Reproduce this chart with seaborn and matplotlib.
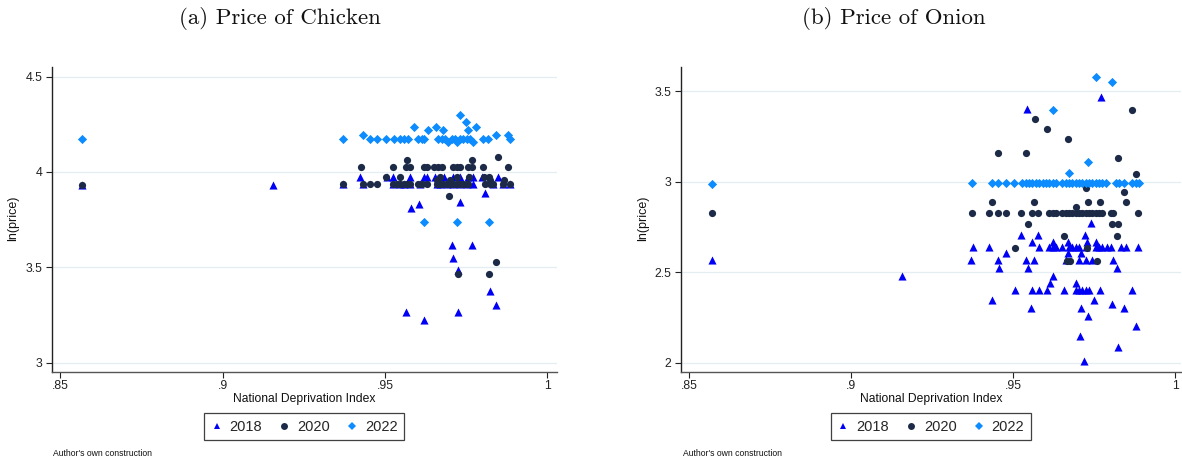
import numpy as np
import pandas as pd
import matplotlib
matplotlib.use("Agg")
import matplotlib.pyplot as plt
from matplotlib.lines import Line2D
import seaborn as sns

# ---------------- data ----------------
years = ["2018", "2020", "2022"]

# (a) Chicken
chk18_x = [0.8568, 0.9155,
           0.9372, 0.9434, 0.9526, 0.9546, 0.9559, 0.9577, 0.9608, 0.9659, 0.9670, 0.9690, 0.9711, 0.9731,
           0.9752, 0.9772, 0.9834, 0.9865, 0.9885,
           0.9423, 0.9505, 0.9526, 0.9577, 0.9620, 0.9629, 0.9654, 0.9682, 0.9711, 0.9731, 0.9757, 0.9772,
           0.9798, 0.9849,
           0.9807, 0.9731, 0.9605, 0.9579, 0.9708, 0.9767, 0.9711, 0.9724, 0.9823, 0.9842, 0.9565, 0.9724, 0.9621]
chk18_y = [3.932, 3.932,
           3.935, 3.935, 3.935, 3.935, 3.935, 3.935, 3.935, 3.935, 3.935, 3.935, 3.935, 3.935,
           3.935, 3.935, 3.935, 3.935, 3.935,
           3.975, 3.975, 3.975, 3.975, 3.975, 3.975, 3.975, 3.975, 3.975, 3.975, 3.975, 3.975,
           3.975, 3.975,
           3.888, 3.844, 3.830, 3.810, 3.617, 3.617, 3.547, 3.486, 3.376, 3.303, 3.264, 3.264, 3.224]

chk20_x = [0.8568,
           0.9372, 0.9434, 0.9454, 0.9477, 0.9526, 0.9536, 0.9546, 0.9559, 0.9567, 0.9577, 0.9603, 0.9613,
           0.9629, 0.9659, 0.9670, 0.9680, 0.9690, 0.9700, 0.9711, 0.9721, 0.9731, 0.9741, 0.9752, 0.9757,
           0.9808, 0.9823, 0.9834, 0.9865, 0.9885,
           0.9425, 0.9524, 0.9564, 0.9577, 0.9621, 0.9629, 0.9651, 0.9664, 0.9675, 0.9711, 0.9721, 0.9731,
           0.9757, 0.9767, 0.9803, 0.9878,
           0.9569, 0.9769, 0.9849,
           0.9503, 0.9546, 0.9670, 0.9721, 0.9760, 0.9805, 0.9821,
           0.9659, 0.9700, 0.9823, 0.9867,
           0.9696, 0.9842, 0.9726, 0.9819]
chk20_y = [3.932,
           3.935, 3.935, 3.935, 3.935, 3.935, 3.935, 3.935, 3.935, 3.935, 3.935, 3.935, 3.935,
           3.935, 3.935, 3.935, 3.935, 3.935, 3.935, 3.935, 3.935, 3.935, 3.935, 3.935, 3.935,
           3.935, 3.935, 3.935, 3.935, 3.935,
           4.026, 4.026, 4.026, 4.026, 4.026, 4.026, 4.026, 4.026, 4.026, 4.026, 4.026, 4.026,
           4.026, 4.026, 4.026, 4.026,
           4.063, 4.063, 4.080,
           3.972, 3.972, 3.972, 3.972, 3.972, 3.972, 3.972,
           3.958, 3.958, 3.958, 3.958,
           3.874, 3.526, 3.467, 3.467]

chk22_x = [0.8568,
           0.9372, 0.9454, 0.9477, 0.9503, 0.9528, 0.9546, 0.9559, 0.9572, 0.9603, 0.9613, 0.9620, 0.9664,
           0.9675, 0.9685, 0.9706, 0.9716, 0.9731, 0.9741, 0.9752, 0.9762, 0.9803, 0.9818, 0.9885,
           0.9731, 0.9749, 0.9782, 0.9757, 0.9590, 0.9632, 0.9656, 0.9678, 0.9434, 0.9842, 0.9878,
           0.9695, 0.9721, 0.9770,
           0.9621, 0.9721, 0.9819]
chk22_y = [4.175,
           4.175, 4.175, 4.175, 4.175, 4.175, 4.175, 4.175, 4.175, 4.175, 4.175, 4.175, 4.175,
           4.175, 4.175, 4.175, 4.175, 4.175, 4.175, 4.175, 4.175, 4.175, 4.175, 4.175,
           4.300, 4.264, 4.238, 4.220, 4.238, 4.220, 4.238, 4.220, 4.194, 4.194, 4.194,
           4.156, 4.156, 4.156,
           3.738, 3.738, 3.738]

# (b) Onion
oni18_x = [0.8570, 0.9158,
           0.9375, 0.9424, 0.9578, 0.9610, 0.9621, 0.9631, 0.9651, 0.9672, 0.9682, 0.9692, 0.9703, 0.9723,
           0.9754, 0.9764, 0.9774, 0.9790, 0.9800, 0.9831, 0.9846, 0.9883,
           0.9369, 0.9454, 0.9539, 0.9564, 0.9662, 0.9703, 0.9723, 0.9742, 0.9806,
           0.9477, 0.9667, 0.9708,
           0.9455, 0.9546, 0.9821,
           0.9557, 0.9623, 0.9670, 0.9726, 0.9754,
           0.9523, 0.9575, 0.9721,
           0.9740, 0.9623, 0.9613, 0.9692,
           0.9504, 0.9556, 0.9578, 0.9605, 0.9655, 0.9692, 0.9703, 0.9713, 0.9723, 0.9733, 0.9768, 0.9867,
           0.9434, 0.9749, 0.9804, 0.9553, 0.9708, 0.9841, 0.9730, 0.9877, 0.9705, 0.9822, 0.9718,
           0.9542, 0.9771]
oni18_y = [2.566, 2.481,
           2.638, 2.638, 2.638, 2.638, 2.638, 2.638, 2.638, 2.638, 2.638, 2.638, 2.638, 2.638,
           2.638, 2.638, 2.638, 2.638, 2.638, 2.638, 2.638, 2.638,
           2.566, 2.566, 2.566, 2.566, 2.566, 2.566, 2.566, 2.566, 2.566,
           2.608, 2.608, 2.608,
           2.522, 2.522, 2.522,
           2.669, 2.669, 2.669, 2.669, 2.669,
           2.706, 2.706, 2.706,
           2.770, 2.480, 2.440, 2.440,
           2.400, 2.400, 2.400, 2.400, 2.400, 2.400, 2.400, 2.400, 2.400, 2.400, 2.400, 2.400,
           2.347, 2.347, 2.323, 2.300, 2.300, 2.300, 2.255, 2.200, 2.145, 2.086, 2.007,
           3.401, 3.466]

oni20_x = [0.8570,
           0.9372, 0.9424, 0.9454, 0.9477, 0.9525, 0.9556, 0.9577, 0.9610, 0.9621, 0.9631, 0.9651, 0.9662,
           0.9672, 0.9682, 0.9692, 0.9703, 0.9713, 0.9723, 0.9733, 0.9744, 0.9754, 0.9764, 0.9774, 0.9802,
           0.9807, 0.9883,
           0.9434, 0.9564, 0.9731, 0.9767, 0.9847,
           0.9692, 0.9840, 0.9877, 0.9723, 0.9822, 0.9454, 0.9539, 0.9669, 0.9604, 0.9568, 0.9867,
           0.9546, 0.9803, 0.9822, 0.9656, 0.9819, 0.9504, 0.9726, 0.9665, 0.9674, 0.9759]
oni20_y = [2.827,
           2.827, 2.827, 2.827, 2.827, 2.827, 2.827, 2.827, 2.827, 2.827, 2.827, 2.827, 2.827,
           2.827, 2.827, 2.827, 2.827, 2.827, 2.827, 2.827, 2.827, 2.827, 2.827, 2.827, 2.827,
           2.827, 2.827,
           2.886, 2.886, 2.886, 2.886, 2.886,
           2.860, 2.940, 3.040, 2.965, 3.132, 3.155, 3.155, 3.237, 3.290, 3.346, 3.397,
           2.768, 2.768, 2.768, 2.702, 2.702, 2.632, 2.632, 2.559, 2.559, 2.559]

oni22_x = [0.8570,
           0.9372, 0.9433, 0.9454, 0.9477, 0.9503, 0.9528, 0.9539, 0.9549, 0.9559, 0.9569, 0.9580, 0.9590,
           0.9600, 0.9610, 0.9621, 0.9631, 0.9651, 0.9662, 0.9672, 0.9682, 0.9692, 0.9703, 0.9713, 0.9723,
           0.9733, 0.9744, 0.9754, 0.9764, 0.9774, 0.9785, 0.9816, 0.9826, 0.9841, 0.9867, 0.9877, 0.9887,
           0.9672, 0.9730, 0.9622, 0.9756, 0.9804]
oni22_y = [2.989,
           2.991, 2.991, 2.991, 2.991, 2.991, 2.991, 2.991, 2.991, 2.991, 2.991, 2.991, 2.991,
           2.991, 2.991, 2.991, 2.991, 2.991, 2.991, 2.991, 2.991, 2.991, 2.991, 2.991, 2.991,
           2.991, 2.991, 2.991, 2.991, 2.991, 2.991, 2.991, 2.991, 2.991, 2.991, 2.991, 2.991,
           3.046, 3.110, 3.397, 3.580, 3.552]

titles = ["(a) Price of Chicken", "(b) Price of Onion"]
x_ticks = [0.85, 0.90, 0.95, 1.00]
x_ticklabels = [".85", ".9", ".95", "1"]
chk_yticks = [3.0, 3.5, 4.0, 4.5]
chk_yticklabels = ["3", "3.5", "4", "4.5"]
oni_yticks = [2.0, 2.5, 3.0, 3.5]
oni_yticklabels = ["2", "2.5", "3", "3.5"]
x_label = "National Deprivation Index"
y_label = "ln(price)"
note = "Author's own construction"

# ---------------- frames ----------------
def frame(xs, ys):
    rows = []
    for yr, xv, yv in zip(years, xs, ys):
        rows.append(pd.DataFrame({"ndi": xv, "lnp": yv, "year": yr}))
    return pd.concat(rows, ignore_index=True)

df_chk = frame([chk18_x, chk20_x, chk22_x], [chk18_y, chk20_y, chk22_y])
df_oni = frame([oni18_x, oni20_x, oni22_x], [oni18_y, oni20_y, oni22_y])

# ---------------- style ----------------
sns.set_style("white")
plt.rcParams["font.family"] = ["Liberation Sans", "DejaVu Sans"]

palette = {"2018": "#0000f5", "2020": "#1c2a48", "2022": "#0d8cff"}
markers = {"2018": "^", "2020": "o", "2022": "D"}
sizes = {"2018": 34, "2020": 27, "2022": 22}

W, H = 1182, 457
fig = plt.figure(figsize=(W / 100, H / 100), dpi=100)

panels = [
    dict(df=df_chk, left=51.7, right=556.7, top=66.7, ylim=(2.953, 4.552),
         yt=chk_yticks, ytl=chk_yticklabels, title_x=280, ylab_x=13, note_x=53),
    dict(df=df_oni, left=680.7, right=1181.0, top=67.3, ylim=(1.950, 3.631),
         yt=oni_yticks, ytl=oni_yticklabels, title_x=894, ylab_x=643, note_x=683),
]
bottom_px = 371.7

for i, p in enumerate(panels):
    ax = fig.add_axes([p["left"] / W, (H - bottom_px) / H,
                       (p["right"] - p["left"]) / W, (bottom_px - p["top"]) / H])
    for yr in years:
        sub = p["df"][p["df"]["year"] == yr]
        sns.scatterplot(data=sub, x="ndi", y="lnp", ax=ax, color=palette[yr],
                        marker=markers[yr], s=sizes[yr], linewidth=0, legend=False,
                        zorder=3)
    ax.set_xlim(0.8474, 1.0029 if i == 0 else 1.0017)
    ax.set_ylim(*p["ylim"])
    ax.set_xticks(x_ticks)
    ax.set_xticklabels(x_ticklabels)
    ax.set_yticks(p["yt"])
    ax.set_yticklabels(p["ytl"])
    ax.tick_params(axis="both", direction="out", length=4.3, width=0.8, pad=2.4,
                   labelsize=8.8, colors="#222222", bottom=True, left=True)
    ax.tick_params(axis="x", pad=1.5)
    ax.grid(axis="y", color="#e4edf0", linewidth=0.9, zorder=0)
    ax.grid(axis="x", visible=False)
    for s in ["top", "right"]:
        ax.spines[s].set_visible(False)
    ax.spines["left"].set_color("#222222")
    ax.spines["left"].set_linewidth(1.0)
    ax.spines["bottom"].set_color("#555555")
    ax.spines["bottom"].set_linewidth(1.0)
    ax.set_xlabel(x_label, fontsize=8.7, labelpad=1.0, color="#111111")
    ax.set_ylabel("")
    fig.text(p["ylab_x"] / W, (H - 218) / H, y_label, rotation=90, fontsize=9,
             ha="center", va="center", color="#111111")
    fig.text(p["title_x"] / W, 1 - 18 / H, titles[i], fontsize=16.5,
             family=["cmr10", "DejaVu Serif"], ha="center", va="center", color="#111111")
    fig.text(p["note_x"] / W, 1 - 453 / H, note, fontsize=6.2, ha="left", va="center",
             color="#111111")

    handles = [Line2D([], [], linestyle="none", marker=markers[yr], color=palette[yr],
                      markersize=5 if yr != "2022" else 4.2, markeredgewidth=0)
               for yr in years]
    leg = ax.legend(handles, years, loc="center", bbox_to_anchor=(0.5, -0.181),
                    ncol=3, fontsize=10.5, frameon=True, fancybox=False,
                    edgecolor="#111111", handlelength=0.8, handletextpad=0.5,
                    columnspacing=1.1, borderpad=0.45, borderaxespad=0)
    leg.get_frame().set_linewidth(0.9)

fig.savefig("out.png", dpi=100, facecolor="white")
